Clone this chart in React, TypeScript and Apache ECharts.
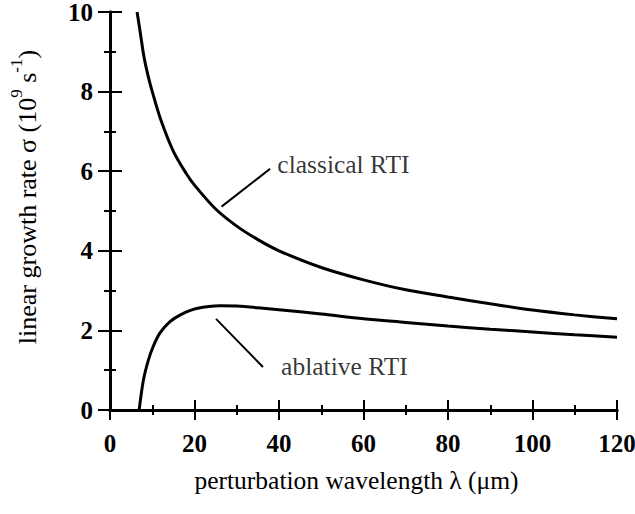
import React, { useEffect, useRef } from "react";
import * as echarts from "echarts";

// perturbation wavelength (µm) and growth rate (1e9 s^-1)
const classicalLambda = [6.4, 7, 8, 9, 10, 12, 15, 18, 20, 25, 30, 35, 40, 50, 60, 70, 80, 90, 100, 110, 120];
const classicalSigma = [10, 9.6, 8.9, 8.4, 8.0, 7.3, 6.5, 5.95, 5.65, 5.05, 4.62, 4.28, 4.0, 3.58, 3.27, 3.02, 2.84, 2.67, 2.51, 2.39, 2.29];

const ablativeLambda = [6.9, 7.9, 9.1, 10.2, 11.8, 14.2, 17, 20.5, 26, 30, 35, 40, 50, 60, 70, 80, 90, 100, 110, 120];
const ablativeSigma = [0, 0.75, 1.26, 1.59, 1.93, 2.22, 2.41, 2.55, 2.62, 2.61, 2.57, 2.52, 2.41, 2.29, 2.2, 2.11, 2.03, 1.96, 1.89, 1.83];

// annotation pointers [lambda, sigma]
const classicalPointer = [[26.4, 5.11], [37.9, 6.06]];
const ablativePointer = [[25.1, 2.29], [36.2, 1.08]];
const annotationLabels = [
  { text: "classical RTI", at: [39.6, 6.16] },
  { text: "ablative RTI", at: [40.5, 1.1] },
];

const xTicks = [0, 20, 40, 60, 80, 100, 120];
const yTicks = [0, 2, 4, 6, 8, 10];

const FONT = "'Liberation Serif', 'DejaVu Serif', serif";

export default function App() {
  const ref = useRef<HTMLDivElement>(null);
  useEffect(() => {
    if (!ref.current) return;
    const chart = echarts.init(ref.current, null, { renderer: "svg" });
    const axisLine = { show: true, lineStyle: { color: "#000", width: 3 } };
    const tickCommon = { show: true, inside: true, lineStyle: { color: "#000", width: 2 } };
    const line = (d: number[][]) => ({
      type: "line",
      data: d,
      showSymbol: false,
      symbol: "none",
      lineStyle: { color: "#000", width: 3 },
      silent: true,
    });
    chart.setOption({
      animation: false,
      backgroundColor: "#fff",
      grid: { left: 110, right: 18, top: 12, bottom: 104, containLabel: false, outerBoundsMode: "none" },
      xAxis: [
        {
          type: "value",
          min: xTicks[0],
          max: xTicks[xTicks.length - 1],
          interval: 20,
          position: "bottom",
          name: "perturbation wavelength λ (μm)",
          nameLocation: "middle",
          nameGap: 57,
          nameTextStyle: { fontFamily: FONT, fontSize: 25.5, color: "#000", padding: [0, 14, 0, 0] },
          axisLine,
          axisTick: { ...tickCommon, length: 10 },
          minorTick: { show: true, splitNumber: 2, length: 5, lineStyle: { color: "#000", width: 2 } },
          axisLabel: { fontFamily: FONT, fontSize: 25, fontWeight: "bold", color: "#000", margin: 21 },
          splitLine: { show: false },
        },
        {
          type: "value",
          min: 0,
          max: 120,
          interval: 20,
          position: "top",
          axisLine,
          axisTick: { ...tickCommon, length: 10 },
          minorTick: { show: true, splitNumber: 2, length: 5, lineStyle: { color: "#000", width: 2 } },
          axisLabel: { show: false },
          splitLine: { show: false },
        },
      ],
      yAxis: [
        {
          type: "value",
          min: yTicks[0],
          max: yTicks[yTicks.length - 1],
          interval: 2,
          position: "left",
          name: "{b|linear growth rate σ (10}{s|9}{b| s}{s|-1}{b|)}",
          nameLocation: "middle",
          nameGap: 70,
          nameRotate: 90,
          nameTextStyle: {
            fontFamily: FONT,
            fontSize: 26,
            color: "#000",
            padding: [0, 0, 0, 28],
            rich: {
              b: { fontFamily: FONT, fontSize: 26, color: "#000", lineHeight: 32, verticalAlign: "bottom" },
              s: { fontFamily: FONT, fontSize: 17, color: "#000", lineHeight: 32, verticalAlign: "top" },
            },
          },
          axisLine,
          axisTick: { ...tickCommon, length: 12 },
          minorTick: { show: true, splitNumber: 2, length: 6, lineStyle: { color: "#000", width: 2 } },
          axisLabel: { fontFamily: FONT, fontSize: 25, fontWeight: "bold", color: "#000", margin: 17 },
          splitLine: { show: false },
        },
        {
          type: "value",
          min: 0,
          max: 10,
          interval: 2,
          position: "right",
          axisLine,
          axisTick: { ...tickCommon, length: 12 },
          minorTick: { show: true, splitNumber: 2, length: 6, lineStyle: { color: "#000", width: 2 } },
          axisLabel: { show: false },
          splitLine: { show: false },
        },
      ],
      series: [
        { ...line(classicalLambda.map((x, i) => [x, classicalSigma[i]])), smooth: 0.3 },
        { ...line(ablativeLambda.map((x, i) => [x, ablativeSigma[i]])), smooth: 0.3 },
        { ...line(classicalPointer), lineStyle: { color: "#000", width: 2 } },
        { ...line(ablativePointer), lineStyle: { color: "#000", width: 2 } },
        {
          type: "scatter",
          symbolSize: 0,
          silent: true,
          data: annotationLabels.map((a) => ({ value: a.at, name: a.text })),
          label: {
            show: true,
            position: "right",
            distance: 0,
            formatter: (p: any) => p.name,
            fontFamily: FONT,
            fontSize: 25.5,
            color: "#000",
          },
        },
      ],
    });
    return () => chart.dispose();
  }, []);
  return <div ref={ref} style={{ width: 635, height: 514, position: "absolute", left: 0, top: 0 }} />;
}
